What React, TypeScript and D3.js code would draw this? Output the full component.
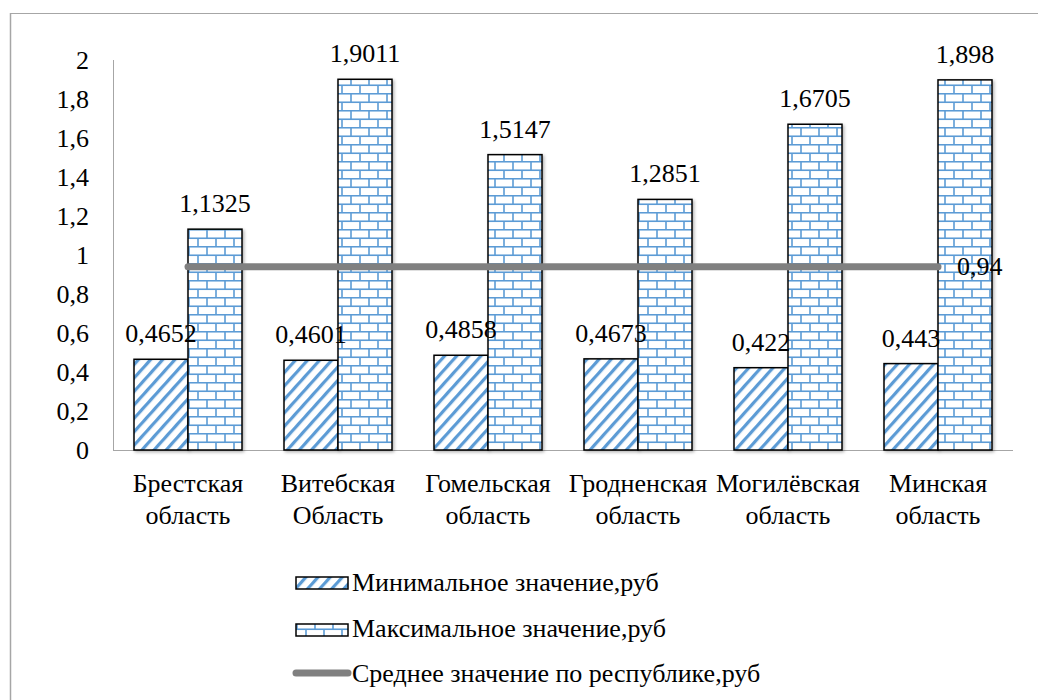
import React from "react";
import * as d3 from "d3";

const categories = [
  ["Брестская", "область"],
  ["Витебская", "Область"],
  ["Гомельская", "область"],
  ["Гродненская", "область"],
  ["Могилёвская", "область"],
  ["Минская", "область"],
];
const minValues = [0.4652, 0.4601, 0.4858, 0.4673, 0.422, 0.443];
const maxValues = [1.1325, 1.9011, 1.5147, 1.2851, 1.6705, 1.898];
const avgValue = 0.94;
const yTicks = [0, 0.2, 0.4, 0.6, 0.8, 1, 1.2, 1.4, 1.6, 1.8, 2];
const seriesNames = [
  "Минимальное значение,руб",
  "Максимальное значение,руб",
  "Среднее значение по республике,руб",
];

const fmt = (v: number) => String(v).replace(".", ",");

export default function App() {
  const W = 1038, H = 700;
  const left = 113, right = 1013, top = 60, bottom = 450;
  const fs = 26;
  const keys = categories.map((c) => c.join(" "));
  const x = d3.scaleBand<string>().domain(keys).range([left, right]).paddingInner(0.28).paddingOuter(0.14);
  const xi = d3.scaleBand<string>().domain(["min", "max"]).range([0, x.bandwidth()]);
  const y = d3.scaleLinear().domain([0, 2]).range([bottom, top]);
  const font = "Liberation Serif, Tinos, Times New Roman, DejaVu Serif, serif";
  const blue = "#5B9BD5";
  const cx = (i: number) => (x(keys[i]) as number) + x.bandwidth() / 2;
  const linePath = d3.line<number>().x((_, i) => cx(i)).y((d) => y(d))(keys.map(() => avgValue)) as string;

  return (
    <svg width={W} height={H} style={{ position: "absolute", left: 0, top: 0, background: "#fff", fontFamily: font }}>
      <defs>
        <pattern id="diag" patternUnits="userSpaceOnUse" width="9" height="9" patternTransform="rotate(42)">
          <rect width="9" height="9" fill="#fff" />
          <rect x="0" y="0" width="3.2" height="9" fill={blue} />
        </pattern>
        <pattern id="brick" patternUnits="userSpaceOnUse" width="18" height="17" x={left} y={bottom}>
          <rect width="18" height="17" fill="#fff" />
          <line x1="0" y1="0.75" x2="18" y2="0.75" stroke={blue} strokeWidth="1.6" />
          <line x1="0" y1="9.25" x2="18" y2="9.25" stroke={blue} strokeWidth="1.6" />
          <line x1="4" y1="0" x2="4" y2="9" stroke={blue} strokeWidth="1.6" />
          <line x1="13" y1="9" x2="13" y2="17" stroke={blue} strokeWidth="1.6" />
        </pattern>
        <filter id="shadow" x="-20%" y="-20%" width="140%" height="140%">
          <feDropShadow dx="1.5" dy="1.5" stdDeviation="1.5" floodColor="#000" floodOpacity="0.3" />
        </filter>
      </defs>
      {/* outer border */}
      <line x1={10} y1={13.5} x2={W} y2={13.5} stroke="#a6a6a6" strokeWidth={1} />
      <line x1={10.5} y1={13} x2={10.5} y2={H} stroke="#a6a6a6" strokeWidth={1.5} />

      {/* axes */}
      <line x1={left + 0.5} y1={top} x2={left + 0.5} y2={bottom} stroke="#a6a6a6" />
      <line x1={left} y1={bottom + 0.5} x2={right} y2={bottom + 0.5} stroke="#a6a6a6" />
      {yTicks.map((t) => (
        <text key={t} x={89} y={y(t)} dy="0.33em" textAnchor="end" fontSize={fs} fill="#000">
          {fmt(t)}
        </text>
      ))}

      {/* bars */}
      {keys.map((k, i) => {
        const x0 = x(k) as number;
        const xm = x0 + (xi("min") as number);
        const xM = x0 + (xi("max") as number);
        const bw = xi.bandwidth();
        return (
          <g key={k}>
            <rect x={xm} y={y(minValues[i])} width={bw} height={bottom - y(minValues[i])} fill="url(#diag)" stroke="#000" strokeWidth={1.5} filter="url(#shadow)" />
            <rect x={xM} y={y(maxValues[i])} width={bw} height={bottom - y(maxValues[i])} fill="url(#brick)" stroke="#000" strokeWidth={1.5} filter="url(#shadow)" />
          </g>
        );
      })}

      {/* average line */}
      <path d={linePath} fill="none" stroke="#808080" strokeWidth={7} strokeLinecap="round" />

      {/* labels */}
      {keys.map((k, i) => {
        const x0 = x(k) as number;
        const bw = xi.bandwidth();
        const xm = x0 + (xi("min") as number) + bw / 2;
        const xM = x0 + (xi("max") as number) + bw / 2;
        return (
          <g key={k} fontSize={fs} fill="#000">
            <text x={xm} y={y(minValues[i]) - 17} textAnchor="middle">{fmt(minValues[i])}</text>
            <text x={xM} y={y(maxValues[i]) - 17} textAnchor="middle">{fmt(maxValues[i])}</text>
            <text x={cx(i)} y={492} textAnchor="middle">{categories[i][0]}</text>
            <text x={cx(i)} y={524} textAnchor="middle">{categories[i][1]}</text>
          </g>
        );
      })}
      <text x={cx(keys.length - 1) + 19} y={y(avgValue)} dy="0.33em" fontSize={fs} fill="#000">{fmt(avgValue)}</text>

      {/* legend */}
      <g fontSize={fs} fill="#000">
        <rect x={296} y={577} width={52} height={12} fill="url(#diag)" stroke="#000" strokeWidth={1.5} />
        <text x={352} y={591}>{seriesNames[0]}</text>
        <rect x={296} y={624} width={52} height={12} fill="url(#brick)" stroke="#000" strokeWidth={1.5} />
        <text x={352} y={637}>{seriesNames[1]}</text>
        <line x1={296} y1={673} x2={348} y2={673} stroke="#808080" strokeWidth={7} strokeLinecap="round" />
        <text x={352} y={682}>{seriesNames[2]}</text>
      </g>
    </svg>
  );
}
